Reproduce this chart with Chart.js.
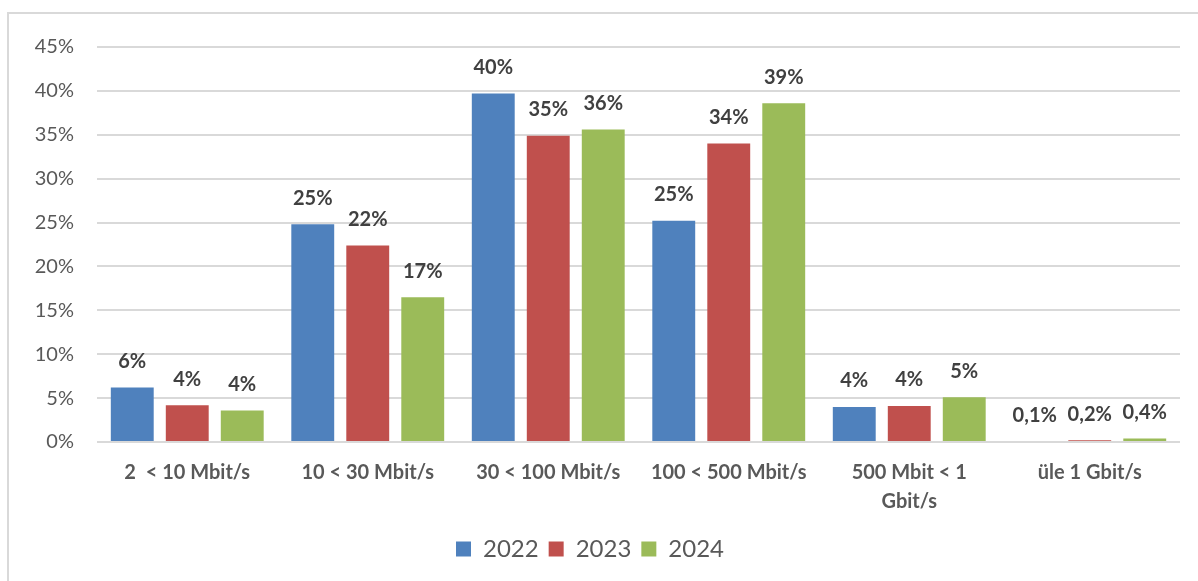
<!DOCTYPE html>
<html>
<head>
<meta charset="utf-8">
<script src="https://cdn.jsdelivr.net/npm/chart.js@4"></script>
<style>
  html, body { margin: 0; padding: 0; background: #ffffff; }
  #wrap { position: relative; width: 1198px; height: 581px; overflow: hidden; }
  #frame {
    position: absolute; left: 7px; top: 12px; width: 1300px; height: 700px;
    border-left: 2px solid #d9d9d9; border-top: 2px solid #d9d9d9;
    box-sizing: border-box;
  }
  canvas { position: absolute; left: 0; top: 0; }
</style>
</head>
<body>
<div id="wrap">
  <div id="frame"></div>
  <canvas id="speeds" width="1198" height="581"></canvas>
</div>
<script>
// speed bands on the x axis
const categories = [
  '2  < 10 Mbit/s',
  '10 < 30 Mbit/s',
  '30 < 100 Mbit/s',
  '100 < 500 Mbit/s',
  ['500 Mbit < 1', 'Gbit/s'],
  'üle 1 Gbit/s'
];

// share of connections, percent
const share2022 = [6.2, 24.8, 39.7, 25.2, 4.0, 0.1];
const share2023 = [4.2, 22.4, 34.9, 34.0, 4.1, 0.2];
const share2024 = [3.6, 16.5, 35.6, 38.6, 5.1, 0.4];

const yTicks = [0, 5, 10, 15, 20, 25, 30, 35, 40, 45];

const FONT = 'Lato, "Open Sans", sans-serif';

// small values keep one decimal (comma), the rest are whole percent
function fmtPct(v) {
  if (v < 1) return v.toFixed(1).replace('.', ',') + '%';
  return Math.round(v) + '%';
}

// value labels above each bar
const barLabels = {
  id: 'barLabels',
  afterDatasetsDraw(chart) {
    const ctx = chart.ctx;
    ctx.save();
    ctx.font = 'bold 20px ' + FONT;
    ctx.fillStyle = '#404040';
    ctx.textAlign = 'center';
    ctx.textBaseline = 'bottom';
    chart.data.datasets.forEach((ds, i) => {
      chart.getDatasetMeta(i).data.forEach((bar, j) => {
        ctx.fillText(fmtPct(ds.data[j]), bar.x, bar.y - 16);
      });
    });
    ctx.restore();
  }
};

new Chart(document.getElementById('speeds'), {
  type: 'bar',
  data: {
    labels: categories,
    datasets: [
      { label: '2022', data: share2022, backgroundColor: '#4F81BD' },
      { label: '2023', data: share2023, backgroundColor: '#C0504D' },
      { label: '2024', data: share2024, backgroundColor: '#9BBB59' }
    ]
  },
  options: {
    responsive: false,
    animation: false,
    layout: { padding: { left: 0, right: 18, top: 47, bottom: 10 } },
    datasets: {
      bar: { categoryPercentage: 0.914, barPercentage: 0.78 }
    },
    scales: {
      x: {
        grid: { display: false, drawTicks: false },
        border: { display: false },
        ticks: {
          color: '#595959',
          padding: 16,
          maxRotation: 0,
          autoSkip: false,
          font: { family: FONT, size: 20, weight: 'bold', lineHeight: 1.45 }
        },
        afterFit(scale) { scale.height = 85; }
      },
      y: {
        min: 0,
        max: 45,
        afterBuildTicks(scale) { scale.ticks = yTicks.map(v => ({ value: v })); },
        grid: { color: '#d9d9d9', lineWidth: 2, drawTicks: false },
        border: { display: false },
        ticks: {
          color: '#595959',
          padding: 23,
          font: { family: FONT, size: 20 },
          callback: v => v + '%'
        },
        afterFit(scale) { scale.width = 97; }
      }
    },
    plugins: {
      legend: {
        position: 'bottom',
        labels: {
          boxWidth: 15,
          boxHeight: 15,
          padding: 10,
          color: '#595959',
          font: { family: FONT, size: 24 }
        }
      },
      tooltip: { enabled: false }
    }
  },
  plugins: [barLabels]
});
</script>
</body>
</html>
